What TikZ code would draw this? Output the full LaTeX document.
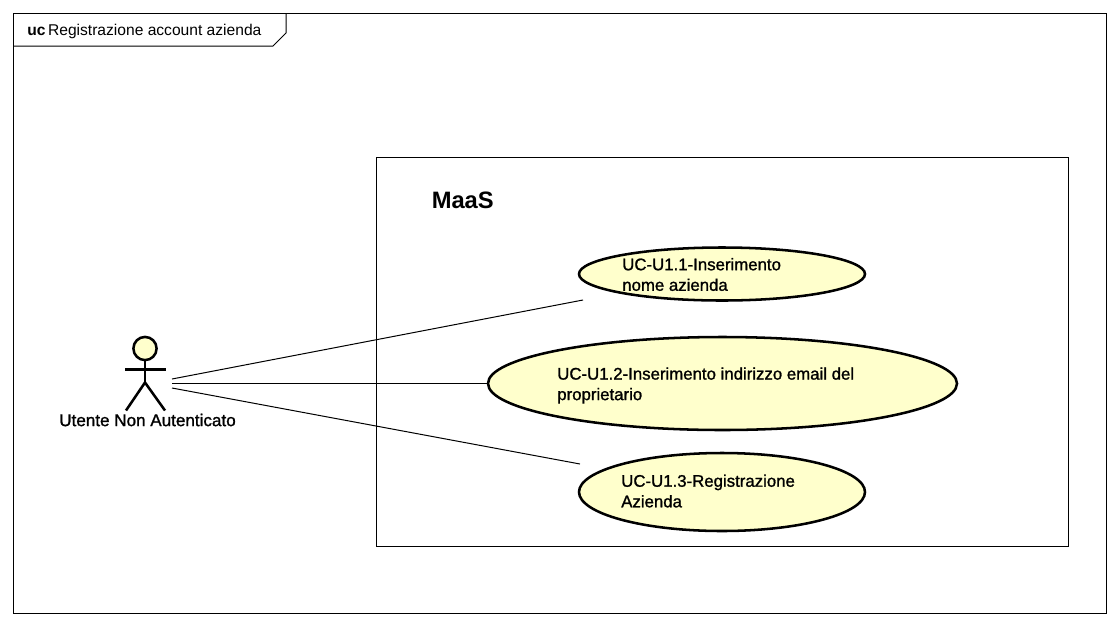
\documentclass[tikz,border=0pt]{standalone}
\usepackage{fontspec}
\setmainfont{Liberation Sans}
\newfontfamily\ucfont[FakeBold=1.2]{Liberation Sans}
\usetikzlibrary{shapes.geometric}
\definecolor{ucfill}{HTML}{FFFFCC}
\tikzset{
	frameline/.style={line width=0.75pt},
	usecase/.style={ellipse, draw, line width=1.9pt, fill=ucfill, inner sep=0pt, outer sep=0pt},
	uclabel/.style={anchor=west, inner sep=0pt, align=left, font=\ucfont\fontsize{12.6}{15.4}\selectfont},
}
\newcommand{\actorman}[2] % x in px, y of head centre in px
{
	% head
	\draw[line width=1.9pt, fill=ucfill] (#1,#2) circle (8.7pt);
	% body
	\draw[line width=1.9pt] (#1,#2+11.5) -- (#1,#2+34);
	\draw[line width=1.9pt] (#1-20,#2+21) -- (#1+21,#2+21);
	% legs
	\draw[line width=1.9pt] (#1-19,#2+62) -- (#1,#2+34) -- (#1+20,#2+62);
}
\begin{document}
\begin{tikzpicture}[x=0.75pt, y=-0.75pt]
	% 1118 x 626 px
	\useasboundingbox (0,0) rectangle (1118,626);
	\draw[frameline] (13,13) rectangle (1106,613);
	\draw[frameline] (13,46) -- (273,46) -- (286,33) -- (286,13);
	\node[anchor=west, inner sep=0pt] (title) at (27,31) {\fontsize{11.7}{14}\selectfont\textbf{uc}\,Registrazione account azienda};
	
	\draw[frameline] (376,157) rectangle (1068,546);
	\node[anchor=west, inner sep=0pt] (maas) at (431.5,200) {\fontsize{17.8}{20}\selectfont\textbf{MaaS}};
	
	\node[usecase, minimum width=214.5pt, minimum height=39.75pt] (ucone) at (722,274) {};
	\node[usecase, minimum width=351.75pt, minimum height=69.75pt] (uctwo) at (722.5,383.5) {};
	\node[usecase, minimum width=214.5pt, minimum height=58.5pt] (ucthree) at (722,492) {};
	\node[uclabel] (txtone) at (622,274.5) {UC-U1.1-Inserimento\\nome azienda};
	\node[uclabel] (txttwo) at (557,385.5) {UC-U1.2-Inserimento indirizzo email del\\proprietario};
	\node[uclabel] (txtthree) at (621,491) {UC-U1.3-Registrazione\\Azienda};
	
	\actorman{145}{348.5};
	\node[inner sep=0pt, font=\ucfont\fontsize{12.8}{14}\selectfont] (utente) at (147.5,420) {Utente Non Autenticato};
	
	\coordinate (actone) at (172,379);
	\coordinate (acttwo) at (172,383.5);
	\coordinate (actthree) at (172,388);
	\coordinate (endone) at (583,300);
	\coordinate (endthree) at (580,464);
	\draw[frameline] (actone) -- (endone);
	\draw[frameline] (acttwo) -- (uctwo.west);
	\draw[frameline] (actthree) -- (endthree);
\end{tikzpicture}
\end{document}
